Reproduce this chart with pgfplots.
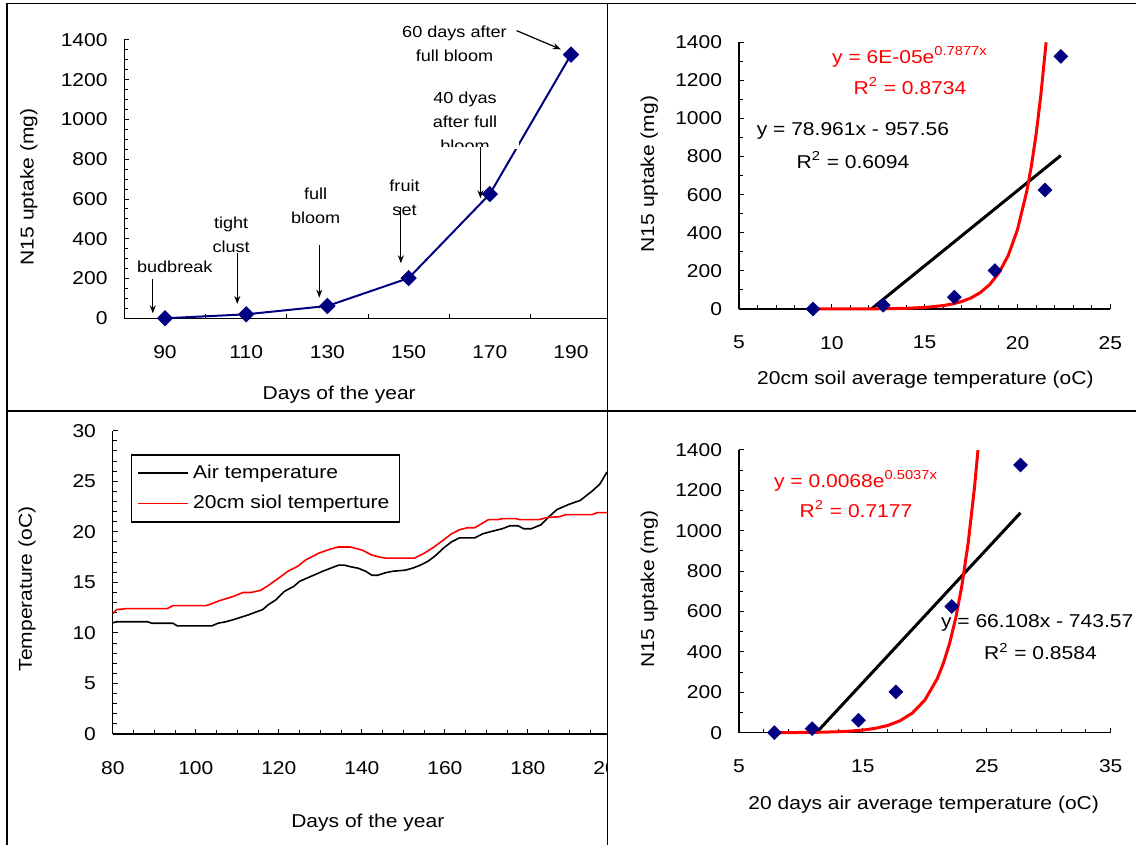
\documentclass[border=0pt]{standalone}
\usepackage{fontspec}
\setmainfont{Liberation Sans}[FakeStretch=1.13]
\usepackage{pgfplots}
\pgfplotsset{compat=1.18}
\usetikzlibrary{arrows.meta}
\definecolor{navy}{RGB}{0,0,128}
\newcommand{\fs}{\fontsize{9.3}{11.5}\selectfont}
\newcommand{\fa}{\fontsize{8}{12}\selectfont}
\pgfplotsset{
  excel/.style={
    scale only axis,
    axis lines=left,
    axis line style={-, line width=0.6pt, black},
    tick align=inside,
    major tick length=2.5pt,
    minor tick length=2pt,
    tick style={black, line width=0.5pt},
    /pgf/number format/assume math mode=true,
    /pgf/number format/1000 sep={},
    tick label style={font=\fs},
    xticklabel shift=10pt,
    yticklabel shift=4.9pt,
    clip=false,
    every axis y label/.style={rotate=90, anchor=center, font=\fs},
    every axis x label/.style={anchor=center, font=\fs},
  },
  dia/.style={only marks, mark=square*, mark size=2.4pt, mark options={rotate=45, fill=navy, draw=navy}},
}
\begin{document}
\begin{tikzpicture}
\useasboundingbox (0pt,0pt) rectangle (568pt,422.5pt);
\fill[white] (0pt,0pt) rectangle (568pt,422.5pt);

% ---------------- Panel 1 ----------------
\begin{scope}
\clip (3.5pt,217pt) rectangle (303.75pt,422.5pt);
\begin{axis}[excel, at={(62.2pt,263.35pt)}, anchor=south west,
  width=243.6pt, height=139.15pt,
  xmin=80, xmax=200, ymin=0, ymax=1400,
  xtick={90,110,...,190}, minor x tick num=1, major x tick style={draw=none},
  ytick={0,200,...,1400}, minor y tick num=3,
  xlabel={Days of the year}, ylabel={N15 uptake (mg)},
  xlabel style={at={(axis description cs:0.441,-0.276)}},
  ylabel style={at={(axis description cs:-0.196,0.472)}},
]
\addplot[navy, line width=1pt, mark=square*, mark size=2.4pt, mark options={rotate=45, fill=navy, draw=navy}]
  coordinates {(90,0)(110,20)(130,62)(150,202)(170,625)(190,1326)};
\fill[white] (axis cs:176.3,854) rectangle (axis cs:177.3,897);
\node[font=\fa, align=center] at (axis cs:92.4,259) {budbreak};
\node[font=\fa, align=center] at (axis cs:106.3,420) {tight\\clust};
\node[font=\fa, align=center] at (axis cs:127.1,566) {full\\bloom};
\node[font=\fa, align=center] at (axis cs:149.0,605) {fruit\\set};
\begin{scope}
\clip (axis cs:150,863) rectangle (axis cs:180,1250);
\node[font=\fa, align=center] at (axis cs:163.9,991) {40 dyas\\after full\\bloom};
\end{scope}
\node[font=\fa, align=center] at (axis cs:161.3,1383) {60 days after\\full bloom};
\draw[-{Stealth[length=4pt,width=3pt]}, line width=0.6pt] (axis cs:87,196) -- (axis cs:87,25);
\draw[-{Stealth[length=4pt,width=3pt]}, line width=0.6pt] (axis cs:107.8,327) -- (axis cs:107.8,72);
\draw[-{Stealth[length=4pt,width=3pt]}, line width=0.6pt] (axis cs:128.0,369) -- (axis cs:128.0,104);
\draw[-{Stealth[length=4pt,width=3pt]}, line width=0.6pt] (axis cs:148.1,558) -- (axis cs:148.1,277);
\draw[-{Stealth[length=4pt,width=3pt]}, line width=0.6pt] (axis cs:167.7,863) -- (axis cs:167.7,604);
\draw[-{Stealth[length=4pt,width=3pt]}, line width=0.6pt] (axis cs:176.6,1447) -- (axis cs:187.5,1353);
\end{axis}
\end{scope}

% ---------------- Panel 2 ----------------
\begin{axis}[excel, at={(369.45pt,268pt)}, anchor=south west,
  width=185.75pt, height=133.35pt,
  xmin=5, xmax=25, ymin=0, ymax=1400,
  xtick={5,10,...,25}, minor x tick num=4,
  ytick={0,200,...,1400}, minor y tick num=1,
  xlabel={20cm soil average temperature (oC)}, ylabel={N15 uptake (mg)},
  xlabel style={at={(axis description cs:0.502,-0.266)}},
  ylabel style={at={(axis description cs:-0.241,0.506)}},
]
\addplot[dia] coordinates {(8.99,0)(12.77,20)(16.6,62)(18.78,202)(21.48,625)(22.33,1326)};
\addplot[black, line width=1.5pt] coordinates {(12.13,0)(22.33,805.7)};
\addplot[red, line width=1.5pt] coordinates {(8.99,0.07)(10,0.16)(11,0.35)(12,0.77)(13,1.7)(14,3.7)(15,8.1)(16,17.9)(16.5,26.5)(17,39.3)(17.5,58.2)(18,86.3)(18.5,128)(19,190)(19.5,281)(20,417)(20.5,619)(20.75,753)(21,917)(21.25,1117)(21.54,1400)};
\node[font=\fs, text=red] at (axis cs:14.21,1324) {y = 6E-05e\textsuperscript{0.7877x}};
\node[font=\fs, text=red] at (axis cs:14.21,1171) {R\textsuperscript{2} = 0.8734};
\node[font=\fs] at (axis cs:11.14,934) {y = 78.961x - 957.56};
\node[font=\fs] at (axis cs:11.14,782) {R\textsuperscript{2} = 0.6094};
\end{axis}

% ---------------- Panel 3 ----------------
\begin{scope}
\clip (3.5pt,0pt) rectangle (303.75pt,217pt);
\begin{axis}[excel, at={(56.4pt,55.5pt)}, anchor=south west,
  width=249.05pt, height=151.65pt,
  xmin=80, xmax=200, ymin=0, ymax=30,
  xtick={80,100,...,200}, minor x tick num=3,
  ytick={0,5,...,30}, minor y tick num=4,
  xlabel={Days of the year}, ylabel={Temperature (oC)},
  xlabel style={at={(axis description cs:0.512,-0.294)}},
  ylabel style={at={(axis description cs:-0.172,0.478)}},
  legend style={at={(0.0365,0.922)}, anchor=north west, draw=black, line width=0.6pt,
    fill=white, font=\fs, inner xsep=3pt, inner ysep=3pt, row sep=3pt},
  legend cell align=left,
  legend image code/.code={\draw[#1, line width=0.8pt] (0pt,0pt) -- (25pt,0pt);},
]
\addplot[black, line width=0.8pt] coordinates {(80,11.0)(81,11.1)(88.4,11.1)(89.4,10.95)(94.5,10.95)(95.5,10.7)(103.9,10.7)(105.3,10.95)(107.2,11.1)(109,11.3)(110.5,11.5)(112.8,11.8)(114.7,12.1)(116.1,12.3)(117.5,12.8)(119.4,13.3)(121.3,14.1)(123.6,14.6)(125,15.1)(127.8,15.6)(130.6,16.1)(132.5,16.4)(134.4,16.7)(135.8,16.7)(137.2,16.55)(139.1,16.4)(140.9,16.1)(142.4,15.7)(143.8,15.7)(145.7,15.95)(147.5,16.1)(150.4,16.2)(152.2,16.4)(154.1,16.7)(156,17.1)(157.9,17.7)(159.7,18.4)(161.6,19.0)(163.5,19.4)(167.2,19.4)(169.1,19.8)(170.9,20.0)(173.8,20.3)(175.7,20.6)(177.6,20.6)(179,20.3)(180.8,20.3)(183.2,20.7)(185.1,21.5)(187,22.2)(189.8,22.7)(192.6,23.1)(195.4,24.0)(197.3,24.7)(198.9,25.8)(200,26.3)};
\addlegendentry{Air temperature}
\addplot[red, line width=0.8pt] coordinates {(80,11.9)(80.9,12.3)(83.3,12.4)(93.1,12.4)(94.5,12.7)(102.5,12.7)(103.9,12.9)(105.8,13.2)(109,13.6)(111.4,14.0)(113.3,14.0)(115.6,14.2)(117.5,14.7)(119.9,15.4)(122.2,16.1)(124.6,16.6)(126.4,17.2)(129.7,17.9)(132.5,18.3)(134.4,18.5)(137.2,18.5)(140,18.2)(142.4,17.7)(144.3,17.5)(145.7,17.4)(152.7,17.4)(155.1,17.9)(157.4,18.5)(159.7,19.2)(161.6,19.8)(163.5,20.2)(165.4,20.4)(167.2,20.4)(170.5,21.2)(172.8,21.2)(173.8,21.3)(177.1,21.3)(178,21.2)(182.6,21.2)(184.5,21.4)(187.7,21.5)(189.1,21.7)(195.4,21.7)(196.8,21.9)(200,21.9)};
\addlegendentry{20cm siol temperture}
\end{axis}
\end{scope}

% ---------------- Panel 4 ----------------
\begin{axis}[excel, at={(369.45pt,56.15pt)}, anchor=south west,
  width=185.9pt, height=141.35pt,
  xmin=5, xmax=35, ymin=0, ymax=1400,
  xtick={5,15,25,35}, minor x tick num=4,
  ytick={0,200,...,1400}, minor y tick num=1,
  xlabel={20 days air average temperature (oC)}, ylabel={N15 uptake (mg)},
  xlabel style={at={(axis description cs:0.497,-0.256)}},
  ylabel style={at={(axis description cs:-0.241,0.508)}},
]
\addplot[dia] coordinates {(7.86,0)(10.91,20)(14.65,62)(17.67,202)(22.17,625)(27.72,1326)};
\addplot[black, line width=1.5pt] coordinates {(11.25,0)(27.72,1088.9)};
\addplot[red, line width=1.5pt] coordinates {(7.86,0.36)(9,0.63)(10,1.05)(11,1.73)(12,2.87)(13,4.75)(14,7.85)(15,13.0)(16,21.5)(17,35.6)(18,59.0)(19,97.6)(20,161)(21,267)(21.5,344)(22,442)(22.5,569)(23,731)(23.5,940)(24,1209)(24.29,1400)};
\node[font=\fs, text=red] at (axis cs:14.45,1248) {y = 0.0068e\textsuperscript{0.5037x}};
\node[font=\fs, text=red] at (axis cs:14.45,1108) {R\textsuperscript{2} = 0.7177};
\node[font=\fs, anchor=west, inner sep=0pt] at (axis cs:21.28,543) {y = 66.108x - 743.57};
\node[font=\fs] at (axis cs:29.33,401) {R\textsuperscript{2} = 0.8584};
\end{axis}

% ---------------- panel borders ----------------
\draw[black, line width=0.75pt] (3.5pt,0pt) -- (3.5pt,420.85pt) -- (568pt,420.85pt);
\draw[black, line width=0.75pt] (303.75pt,0pt) -- (303.75pt,420.85pt);
\draw[black, line width=0.75pt] (3.5pt,217pt) -- (568pt,217pt);
\end{tikzpicture}
\end{document}
